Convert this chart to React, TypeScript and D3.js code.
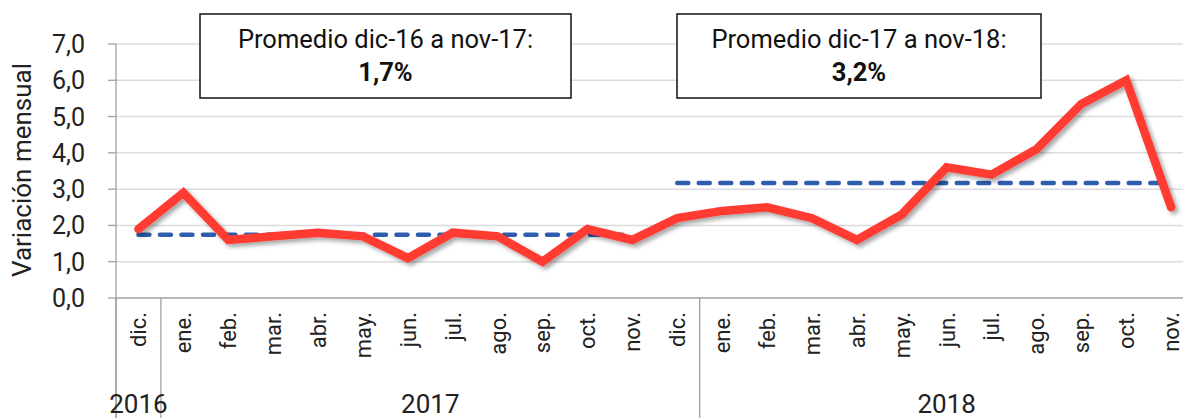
import React from "react";
import * as d3 from "d3";

const months = ["dic.","ene.","feb.","mar.","abr.","may.","jun.","jul.","ago.","sep.","oct.","nov.","dic.","ene.","feb.","mar.","abr.","may.","jun.","jul.","ago.","sep.","oct.","nov."];
const values = [1.9, 2.9, 1.6, 1.7, 1.8, 1.7, 1.1, 1.8, 1.7, 1.0, 1.9, 1.6, 2.2, 2.4, 2.5, 2.2, 1.6, 2.3, 3.6, 3.4, 4.1, 5.35, 6.0, 2.5];
const years = [
  { label: "2016", start: 0, end: 1 },
  { label: "2017", start: 1, end: 13 },
  { label: "2018", start: 13, end: 24 },
];
const averages = [
  { value: 1.74, start: 0, end: 11, title: "Promedio dic-16 a nov-17:", label: "1,7%" },
  { value: 3.17, start: 12, end: 23, title: "Promedio dic-17 a nov-18:", label: "3,2%" },
];
const yTicks = [0, 1, 2, 3, 4, 5, 6, 7];

const W = 1183, H = 418;
const FONT = "Roboto, 'DejaVu Sans', sans-serif";

export default function App() {
  const idx = months.map((_, i) => i);
  const x = d3.scaleBand<number>().domain(idx).range([116, 116 + 24 * 44.9]).padding(0);
  const y = d3.scaleLinear().domain([0, 7]).range([298, 44]);
  const cx = (i: number) => (x(i) as number) + x.bandwidth() / 2;
  const line = d3.line<number>().x((_, i) => cx(i)).y((d) => y(d));
  const bw = x.bandwidth();
  const boxes = [
    { x0: 200, x1: 571 },
    { x0: 677, x1: 1041 },
  ];
  return (
    <svg width={W} height={H} style={{ position: "absolute", left: 0, top: 0, background: "#fff" }} fontFamily={FONT}>
      <defs>
        <filter id="sh" x="-10%" y="-20%" width="120%" height="140%">
          <feDropShadow dx="3" dy="3" stdDeviation="2" floodColor="#000" floodOpacity="0.35" />
        </filter>
      </defs>
      {yTicks.filter((t) => t > 0).map((t) => (
        <line key={t} x1={116} x2={W} y1={y(t)} y2={y(t)} stroke="#DCDCDC" strokeWidth={1.5} />
      ))}
      <line x1={116} x2={116} y1={y(7)} y2={H} stroke="#A0A0A0" strokeWidth={1.3} />
      {yTicks.map((t) => (
        <g key={t}>
          <line x1={108} x2={116} y1={y(t)} y2={y(t)} stroke="#A0A0A0" strokeWidth={1.3} />
          <text x={85} y={y(t)} dy="0.36em" textAnchor="end" fontSize={25} fill="#222">
            {d3.format(".1f")(t).replace(".", ",")}
          </text>
        </g>
      ))}
      <text transform={`translate(31,170) rotate(-90)`} textAnchor="middle" fontSize={26} fill="#222">
        Variación mensual
      </text>
      <line x1={116} x2={W} y1={y(0)} y2={y(0)} stroke="#A0A0A0" strokeWidth={1.3} />
      {years.map((g) => (
        <line key={"s" + g.label} x1={x(g.start) as number} x2={x(g.start) as number} y1={y(0)} y2={H} stroke="#A0A0A0" strokeWidth={1.3} />
      ))}
      {months.map((m, i) => (
        <text key={i} transform={`translate(${cx(i)},312) rotate(-90)`} dy="0.36em" textAnchor="end" fontSize={22} fill="#222">
          {m}
        </text>
      ))}
      {years.map((g) => (
        <text key={g.label} x={((x(g.start) as number) * 2 + (g.end - g.start) * bw) / 2} y={413} textAnchor="middle" fontSize={26} fill="#222">
          {g.label}
        </text>
      ))}
      {averages.map((a, k) => (
        <line key={k} x1={cx(a.start)} x2={cx(a.end)} y1={y(a.value)} y2={y(a.value)} stroke="#2F5DAE" strokeWidth={4.5} strokeDasharray="11 10.5" strokeLinecap="round" />
      ))}
      <path d={line(values) || ""} fill="none" stroke="#FF3B30" strokeWidth={8.5} strokeLinejoin="miter" strokeLinecap="round" filter="url(#sh)" />
      {averages.map((a, k) => {
        const b = boxes[k];
        const mx = (b.x0 + b.x1) / 2;
        return (
          <g key={"b" + k}>
            <rect x={b.x0} y={14} width={b.x1 - b.x0} height={84} fill="#fff" stroke="#111" strokeWidth={1.5} />
            <text x={mx} y={48} textAnchor="middle" fontSize={25.5} fill="#111">{a.title}</text>
            <text x={mx} y={81} textAnchor="middle" fontSize={25.5} fontWeight="bold" fill="#111">{a.label}</text>
          </g>
        );
      })}
    </svg>
  );
}
